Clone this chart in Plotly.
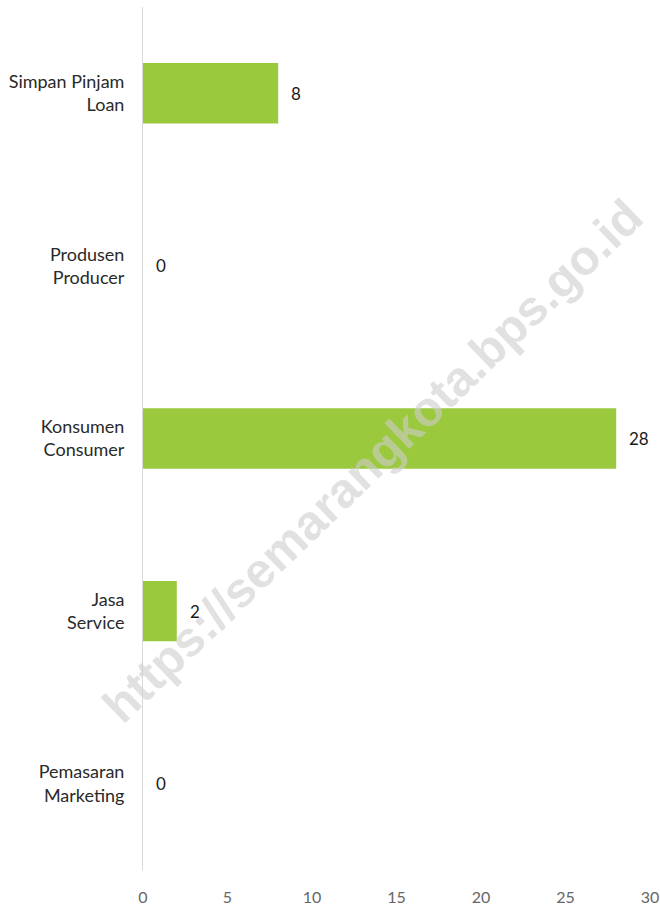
import plotly.graph_objects as go

categories = ["Simpan Pinjam<br>Loan", "Produsen<br>Producer", "Konsumen<br>Consumer", "Jasa<br>Service", "Pemasaran<br>Marketing"]
values = [8, 0, 28, 2, 0]
x_ticks = [0, 5, 10, 15, 20, 25, 30]

fig = go.Figure()
fig.add_trace(go.Bar(
    y=categories, x=values, orientation="h",
    marker=dict(color="#9BC93E", line=dict(width=0)),
    width=0.35, hoverinfo="skip",
))

for c, v in zip(categories, values):
    fig.add_annotation(x=v, y=c, text=str(v), showarrow=False, xanchor="left",
                       xshift=11, font=dict(family="Lato, sans-serif", size=17, color="#1a1a1a"))

fig.add_annotation(xref="paper", yref="paper", x=0.452, y=0.474,
                   text="<b>https://semarangkota.bps.go.id</b>", showarrow=False,
                   textangle=-44, font=dict(family="Liberation Sans, Arial, sans-serif", size=49, color="rgba(205,205,205,0.6)"))

fig.update_layout(
    width=660, height=908,
    margin=dict(l=143, r=10, t=7, b=38, autoexpand=False),
    plot_bgcolor="white", paper_bgcolor="white",
    showlegend=False,
    font=dict(family="Lato, sans-serif", size=18, color="#2a2a2a"),
)
fig.update_xaxes(range=[0, 30], tickvals=x_ticks, showgrid=False, zeroline=False, showline=False,
                 tickfont=dict(size=16, color="#666666"), ticklabelstandoff=16, automargin=False, fixedrange=True)
fig.update_yaxes(autorange="reversed", showgrid=False, zeroline=False, showline=True,
                 linecolor="#d9d9d9", linewidth=1, ticklabelstandoff=14, automargin=False,
                 tickfont=dict(size=18, color="#2a2a2a"), fixedrange=True)

fig.write_html("out.html", config={"displayModeBar": False},
               post_script="document.body.style.margin='0';document.body.style.overflow='hidden';")
